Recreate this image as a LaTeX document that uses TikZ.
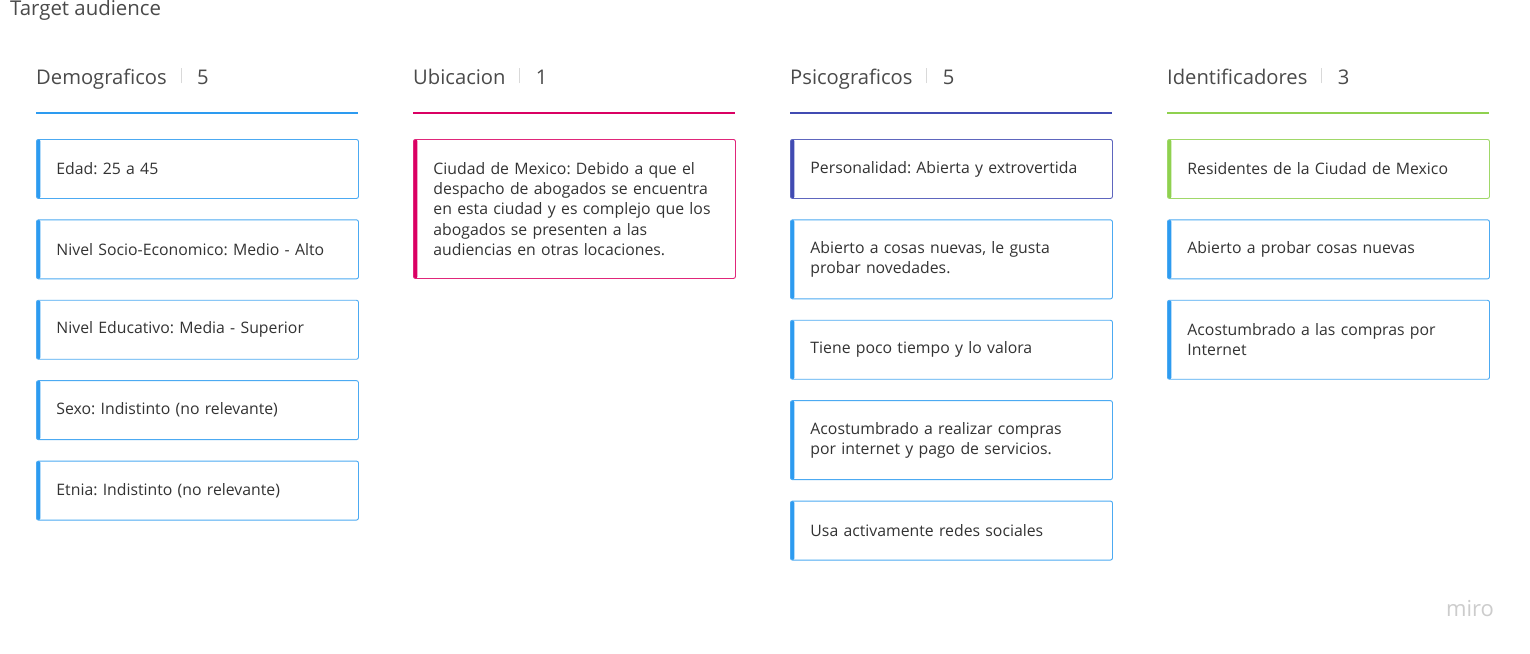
\documentclass[tikz,border=0pt]{standalone}
\usepackage{fontspec}
\setmainfont{Open Sans}
\usetikzlibrary{positioning}
\definecolor{mblue}{HTML}{2D9BF0}
\definecolor{mpink}{HTML}{DA0063}
\definecolor{mindigo}{HTML}{414BB2}
\definecolor{mgreen}{HTML}{8FD14F}
\definecolor{mtext}{HTML}{333333}
\definecolor{mhead}{HTML}{4A4A4A}
\frenchspacing

\begin{document}
\begin{tikzpicture}[x=1pt,y=-1pt,
    card/.style={draw=#1!85, line width=0.9pt, rounded corners=2pt, fill=white,
      anchor=north west, text width=282pt, inner xsep=20pt, inner ysep=0pt,
      minimum height=59pt, align=left, text=mtext,
      font=\fontsize{15.8}{20.2}\selectfont,
      path picture={\fill[#1] (path picture bounding box.south west)
        rectangle ([xshift=4pt]path picture bounding box.north west);}},
    hd/.style={anchor=base west, inner sep=0pt, text=mhead,
      font=\fontsize{20.2}{24}\selectfont},
    hbar/.style={draw=gray!30, line width=1pt},
    uline/.style={draw=#1, line width=2pt},
    node distance=20.5pt]
  \fill[white] (0,0) rectangle (1530,653);
  \useasboundingbox (0,0) rectangle (1530,653);

  \node[hd, font=\fontsize{20.4}{24}\selectfont] (title) at (10,16) {Target audience};

  % Demograficos
  \node[hd] (h1) at (36,84) {Demograficos};
  \draw[hbar] ([xshift=14pt,yshift=1pt]h1.base east) -- ([xshift=14pt,yshift=16pt]h1.base east);
  \node[hd] (n1) at ([xshift=30pt]h1.base east) {5};
  \draw[uline=mblue] (36,113) -- (358,113);
  \node[card=mblue] (d1) at (36,139) {Edad: 25 a 45};
  \node[card=mblue, below=of d1] (d2) {Nivel Socio-Economico: Medio - Alto};
  \node[card=mblue, below=of d2] (d3) {Nivel Educativo: Media - Superior};
  \node[card=mblue, below=of d3] (d4) {Sexo: Indistinto (no relevante)};
  \node[card=mblue, below=of d4] (d5) {Etnia: Indistinto (no relevante)};

  % Ubicacion
  \node[hd] (h2) at (413,84) {Ubicacion};
  \draw[hbar] ([xshift=14pt,yshift=1pt]h2.base east) -- ([xshift=14pt,yshift=16pt]h2.base east);
  \node[hd] (n2) at ([xshift=30pt]h2.base east) {1};
  \draw[uline=mpink] (413,113) -- (735,113);
  \node[card=mpink, minimum height=139pt] (u1) at (413,139)
    {Ciudad de Mexico: Debido a que el\\despacho de abogados se encuentra\\en esta ciudad y es complejo que los\\abogados se presenten a las\\audiencias en otras locaciones.};

  % Psicograficos
  \node[hd] (h3) at (790,84) {Psicograficos};
  \draw[hbar] ([xshift=14pt,yshift=1pt]h3.base east) -- ([xshift=14pt,yshift=16pt]h3.base east);
  \node[hd] (n3) at ([xshift=30pt]h3.base east) {5};
  \draw[uline=mindigo] (790,113) -- (1112,113);
  \node[card=mindigo] (p1) at (790,139) {Personalidad: Abierta y extrovertida};
  \node[card=mblue, minimum height=79pt, below=of p1] (p2) {Abierto a cosas nuevas, le gusta\\probar novedades.};
  \node[card=mblue, below=of p2] (p3) {Tiene poco tiempo y lo valora};
  \node[card=mblue, minimum height=79pt, below=of p3] (p4) {Acostumbrado a realizar compras\\por internet y pago de servicios.};
  \node[card=mblue, below=of p4] (p5) {Usa activamente redes sociales};

  % Identificadores
  \node[hd] (h4) at (1167,84) {Identificadores};
  \draw[hbar] ([xshift=14pt,yshift=1pt]h4.base east) -- ([xshift=14pt,yshift=16pt]h4.base east);
  \node[hd] (n4) at ([xshift=30pt]h4.base east) {3};
  \draw[uline=mgreen] (1167,113) -- (1489,113);
  \node[card=mgreen] (i1) at (1167,139) {Residentes de la Ciudad de Mexico};
  \node[card=mblue, below=of i1] (i2) {Abierto a probar cosas nuevas};
  \node[card=mblue, minimum height=79pt, below=of i2] (i3) {Acostumbrado a las compras por\\Internet};

  \node[text=gray!40, font=\fontsize{22}{24}\selectfont] (logo) at (1470,609) {miro};
\end{tikzpicture}
\end{document}
